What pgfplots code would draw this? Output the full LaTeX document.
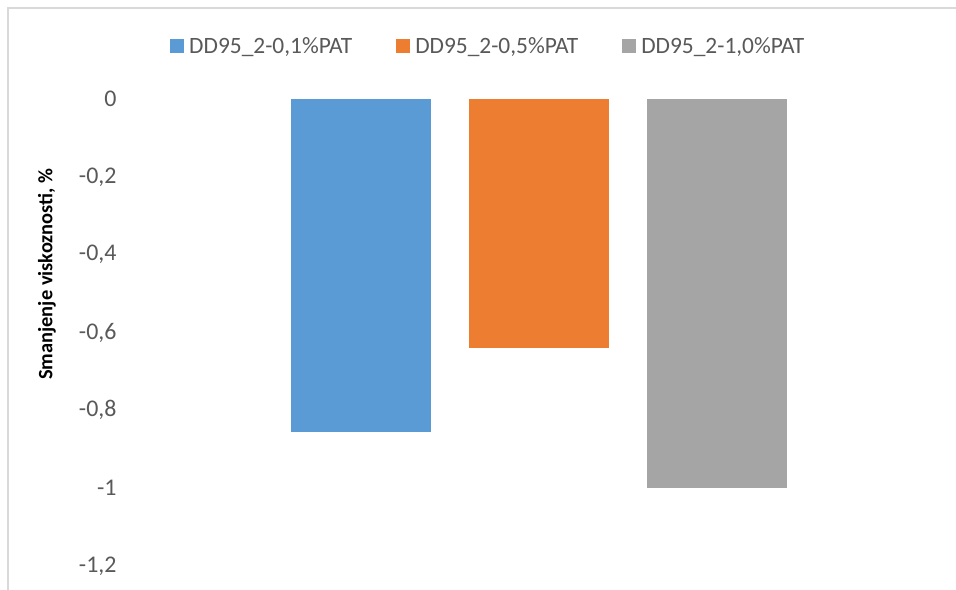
\documentclass[border=0pt]{standalone}
\usepackage{fontspec}
\setmainfont{Carlito}
\usepackage{pgfplots}
\pgfplotsset{compat=1.18}
\definecolor{cblue}{HTML}{5B9BD5}
\definecolor{corange}{HTML}{ED7D31}
\definecolor{cgray}{HTML}{A5A5A5}
\definecolor{ctext}{HTML}{595959}
\definecolor{cframe}{HTML}{D9D9D9}
\begin{document}
\begin{tikzpicture}
\useasboundingbox (0,0) rectangle (956bp,590bp);
\fill[white] (0,0) rectangle (956bp,590bp);
\draw[cframe, line width=1.5bp] (8bp,0bp) -- (8bp,582bp) -- (956bp,582bp);
\begin{axis}[
  at={(130bp,24bp)}, anchor=south west,
  scale only axis, width=818bp, height=467bp,
  xmin=-0.5, xmax=0.5, ymin=-1.2, ymax=0,
  ybar=38bp, bar width=140bp,
  axis line style={draw=none},
  xtick=\empty,
  ytick={0,-0.2,-0.4,-0.6,-0.8,-1,-1.2},
  major tick length=0pt,
  /pgf/number format/assume math mode=true,
  /pgf/number format/.cd, use comma, 1000 sep={},
  /pgfplots/.cd,
  yticklabel style={font=\fontsize{24}{28}\selectfont, text=ctext, anchor=east, xshift=-10bp},
  ylabel={\textbf{Smanjenje viskoznosti, \%}},
  ylabel style={font=\fontsize{20.5}{24}\selectfont, text=black, at={(axis description cs:-0.1015,0.625)}, anchor=center},
  legend columns=3,
  legend style={at={(0.438,1.113)}, anchor=center, draw=none, fill=none,
    font=\fontsize{23.5}{27}\selectfont, text=ctext,
    /tikz/every odd column/.append style={column sep=3bp},
    /tikz/every even column/.append style={column sep=42bp}},
  legend image code/.code={\fill[#1] (0bp,-7bp) rectangle (14bp,7bp);},
]
\addplot[fill=cblue, draw=none] coordinates {(0,-0.856)};
\addplot[fill=corange, draw=none] coordinates {(0,-0.64)};
\addplot[fill=cgray, draw=none] coordinates {(0,-1.0)};
\legend{{DD95\_2-0,1\%PAT}, {DD95\_2-0,5\%PAT}, {DD95\_2-1,0\%PAT}}
\end{axis}
\end{tikzpicture}
\end{document}
